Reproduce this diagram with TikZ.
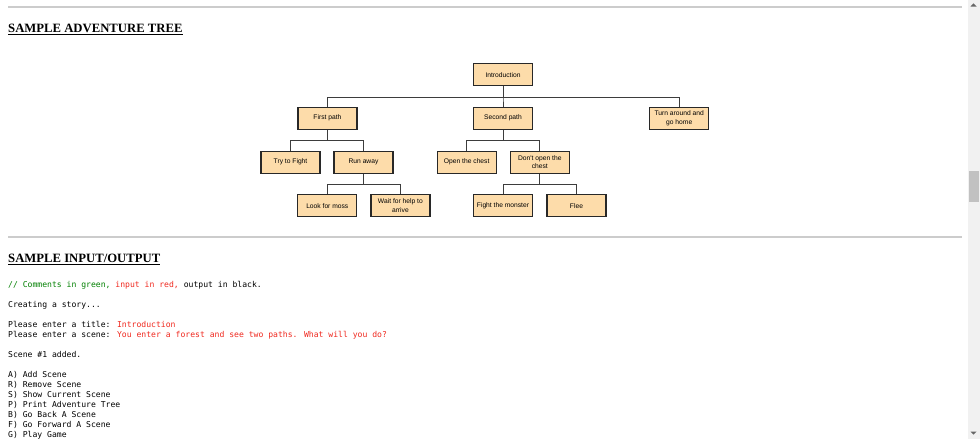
\documentclass[tikz,border=0pt]{standalone}
\usepackage{fontspec}
\setmainfont{Liberation Serif}
\newfontfamily\boxfont{Liberation Sans}
\newfontfamily\monof{DejaVu Sans Mono}
\definecolor{boxfill}{RGB}{253,220,170}
\definecolor{boxline}{RGB}{40,40,40}
\definecolor{rulegray}{RGB}{204,204,204}
\definecolor{cmtgreen}{RGB}{0,128,0}
\definecolor{inred}{RGB}{240,40,30}
\definecolor{track}{RGB}{241,241,241}
\definecolor{thumb}{RGB}{193,193,193}
\tikzset{
  treebox/.style={draw=boxline, fill=boxfill, line width=1.2pt, minimum width=59pt, minimum height=22pt, inner sep=0pt, align=center, font=\boxfont\fontsize{6.7}{8.3}\selectfont},
  link/.style={draw=boxline!90, line width=1pt},
  heading/.style={anchor=base west, inner sep=0pt, font=\fontsize{12.7}{15}\bfseries\selectfont},
  mono/.style={anchor=base west, inner sep=0pt, font=\monof\fontsize{8.1}{10}\selectfont},
  hrule/.style={draw=rulegray, line width=1.5pt}
}
\begin{document}
\begin{tikzpicture}[x=1pt, y=-1pt]
\useasboundingbox (0,0) rectangle (980,439);
\fill[white] (0,0) rectangle (980,439);
% scrollbar
\fill[track] (967.5,0) rectangle (980,439);
\fill[thumb] (969,171) rectangle (979,201.5);
\fill[black!60] (970.5,6.5) -- (976.5,6.5) -- (973.5,3.3) -- cycle;
\fill[black!60] (970.5,431.5) -- (976.5,431.5) -- (973.5,434.7) -- cycle;
% rules
\coordinate (r1a) at (8,7); \coordinate (r1b) at (962,7);
\coordinate (r2a) at (8,237); \coordinate (r2b) at (962,237);
\draw[hrule] (r1a) -- (r1b);
\draw[hrule] (r2a) -- (r2b);
% headings
\node[heading] (h1) at (8,32.8) {SAMPLE ADVENTURE TREE};
\draw[line width=1pt] ([yshift=-1.5pt]h1.base west) -- ([yshift=-1.5pt]h1.base east);
\node[heading] (h2) at (8,262.8) {SAMPLE INPUT/OUTPUT};
\draw[line width=1pt] ([yshift=-1.5pt]h2.base west) -- ([yshift=-1.5pt]h2.base east);
% tree
\node[treebox] (intro) at (503,74.7) {Introduction};
\node[treebox] (first) at (327.4,118.2) {First path};
\node[treebox] (second) at (503,118.2) {Second path};
\node[treebox] (turn) at (679.2,118.2) {Turn around and\\go home};
\node[treebox] (tryfight) at (290.5,162.2) {Try to Fight};
\node[treebox] (run) at (363.5,162.2) {Run away};
\node[treebox] (open) at (466.7,162.2) {Open the chest};
\node[treebox] (dont) at (539.8,162.2) {Don't open the\\chest};
\node[treebox] (moss) at (327.3,205.7) {Look for moss};
\node[treebox] (wait) at (400.4,205.7) {Wait for help to\\arrive};
\node[treebox] (monster) at (503,205.7) {Fight the monster};
\node[treebox] (flee) at (576.5,205.7) {Flee};
\foreach \p/\c in {intro/first, intro/second, intro/turn,
  first/tryfight, first/run, second/open, second/dont,
  run/moss, run/wait, dont/monster, dont/flee}{
  \draw[link] (\p.south) -- ++(0,10.7) -| (\c.north);
}
% sample text
\node[mono] (l0) at (8,287.5) {\textcolor{cmtgreen}{// Comments in green,} \textcolor{inred}{input in red,} output in black.};
\node[mono] (l2) at (8,307.5) {Creating a story...};
\node[mono] (l4) at (8,327.5) {Please enter a title: \textcolor{inred}{Introduction}};
\node[mono] (l5) at (8,337.5) {Please enter a scene: \textcolor{inred}{You enter a forest and see two paths. What will you do?}};
\node[mono] (l7) at (8,357.5) {Scene \#1 added.};
\node[mono] (l9) at (8,377.5) {A) Add Scene};
\node[mono] (l10) at (8,387.5) {R) Remove Scene};
\node[mono] (l11) at (8,397.5) {S) Show Current Scene};
\node[mono] (l12) at (8,407.5) {P) Print Adventure Tree};
\node[mono] (l13) at (8,417.5) {B) Go Back A Scene};
\node[mono] (l14) at (8,427.5) {F) Go Forward A Scene};
\node[mono] (l15) at (8,437.5) {G) Play Game};
\end{tikzpicture}
\end{document}
